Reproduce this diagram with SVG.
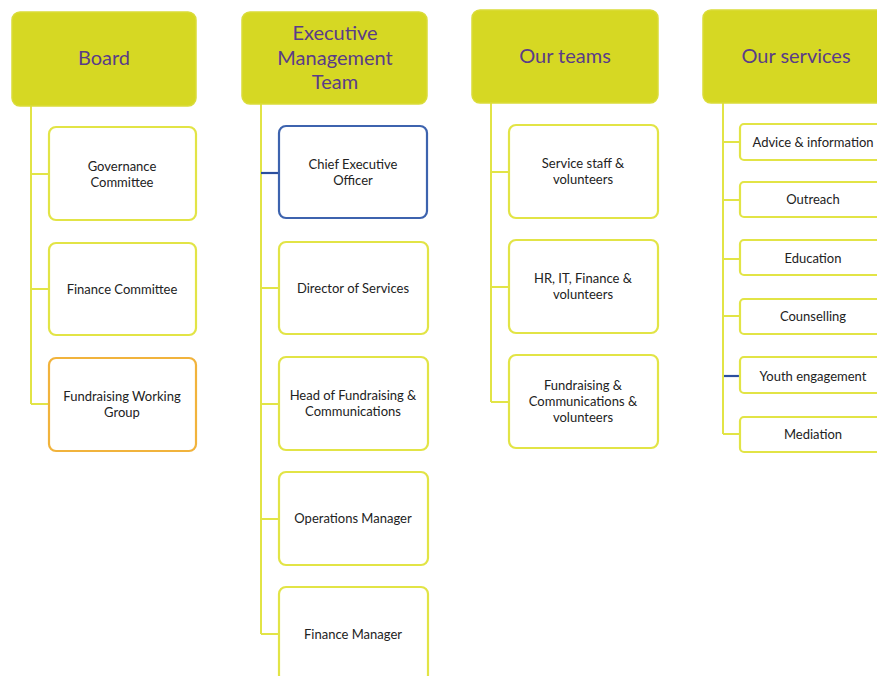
<svg xmlns="http://www.w3.org/2000/svg" width="877" height="676" viewBox="0 0 877 676">
<style>
.hdr{fill:#d6d823;stroke:#dadc3a;stroke-width:1.5}
.box{fill:#fff;stroke:#e2e446;stroke-width:2.2}
.orange{stroke:#f1b33c}
.blue{stroke:#3d63ae}
.line{stroke:#e2e446;stroke-width:2;fill:none}
.bline{stroke:#2b4f9e;stroke-width:2.2;fill:none}
.ht{font-family:Lato,"Liberation Sans",sans-serif;font-size:20px;fill:#5a3c88;text-anchor:middle}
.t{font-family:Lato,"Liberation Sans",sans-serif;font-size:13px;fill:#222;text-anchor:middle}
</style>
<rect width="877" height="676" fill="#fff"/>
<g id="connectors">
<path class="line" d="M31 106V404M31 174H49M31 289H49M31 404H49"/>
<path class="line" d="M261 104V634M261 288H279M261 404H279M261 519H279M261 634H279"/>
<path class="bline" d="M261 173H279"/>
<path class="line" d="M491 103V402M491 172H509M491 287H509M491 402H509"/>
<path class="line" d="M723 103V434M723 142H740M723 200H740M723 259H740M723 316H740M723 434H740"/>
<path class="bline" d="M724 376H739"/>
</g>
<g id="board"><rect class="hdr" x="12" y="12" width="184" height="94" rx="8"/><text class="ht" x="104" y="65">Board</text></g>
<g id="emt"><rect class="hdr" x="242" y="12" width="185" height="92" rx="8"/><text class="ht" x="335" y="40">Executive</text><text class="ht" x="335" y="65">Management</text><text class="ht" x="335" y="89">Team</text></g>
<g id="teams"><rect class="hdr" x="472" y="10" width="186" height="93" rx="8"/><text class="ht" x="565" y="63">Our teams</text></g>
<g id="services"><rect class="hdr" x="703" y="10" width="190" height="93" rx="8"/><text class="ht" x="796" y="63">Our services</text></g>

<g id="governance"><rect class="box" x="49" y="127" width="147" height="93" rx="7"/><text class="t" x="122" y="171">Governance</text><text class="t" x="122" y="187">Committee</text></g>
<g id="finance-committee"><rect class="box" x="49" y="243" width="147" height="92" rx="7"/><text class="t" x="122" y="294">Finance Committee</text></g>
<g id="fundraising-wg"><rect class="box orange" x="49" y="358" width="147" height="93" rx="7"/><text class="t" x="122" y="401">Fundraising Working</text><text class="t" x="122" y="417">Group</text></g>

<g id="ceo"><rect class="box blue" x="279" y="126" width="148" height="92" rx="7"/><text class="t" x="353" y="169">Chief Executive</text><text class="t" x="353" y="185">Officer</text></g>
<g id="director"><rect class="box" x="279" y="242" width="149" height="92" rx="7"/><text class="t" x="353" y="293">Director of Services</text></g>
<g id="head-fundraising"><rect class="box" x="279" y="357" width="149" height="93" rx="7"/><text class="t" x="353" y="400">Head of Fundraising &amp;</text><text class="t" x="353" y="416">Communications</text></g>
<g id="operations"><rect class="box" x="279" y="472" width="149" height="93" rx="7"/><text class="t" x="353" y="523">Operations Manager</text></g>
<g id="finance-manager"><rect class="box" x="279" y="587" width="149" height="95" rx="7"/><text class="t" x="353" y="639">Finance Manager</text></g>

<g id="service-staff"><rect class="box" x="509" y="125" width="149" height="93" rx="7"/><text class="t" x="583" y="168">Service staff &amp;</text><text class="t" x="583" y="184">volunteers</text></g>
<g id="hr-it"><rect class="box" x="509" y="240" width="149" height="93" rx="7"/><text class="t" x="583" y="283">HR, IT, Finance &amp;</text><text class="t" x="583" y="299">volunteers</text></g>
<g id="fundraising-comms"><rect class="box" x="509" y="355" width="149" height="93" rx="7"/><text class="t" x="583" y="390">Fundraising &amp;</text><text class="t" x="583" y="406">Communications &amp;</text><text class="t" x="583" y="422">volunteers</text></g>

<g id="advice"><rect class="box" x="740" y="124" width="150" height="36" rx="4"/><text class="t" x="813" y="147">Advice &amp; information</text></g>
<g id="outreach"><rect class="box" x="740" y="182" width="150" height="35" rx="4"/><text class="t" x="813" y="204">Outreach</text></g>
<g id="education"><rect class="box" x="740" y="240" width="150" height="35" rx="4"/><text class="t" x="813" y="263">Education</text></g>
<g id="counselling"><rect class="box" x="740" y="299" width="150" height="35" rx="4"/><text class="t" x="813" y="321">Counselling</text></g>
<g id="youth"><rect class="box" x="740" y="357" width="150" height="36" rx="4"/><text class="t" x="813" y="381">Youth engagement</text></g>
<g id="mediation"><rect class="box" x="740" y="417" width="150" height="35" rx="4"/><text class="t" x="813" y="439">Mediation</text></g>
</svg>
